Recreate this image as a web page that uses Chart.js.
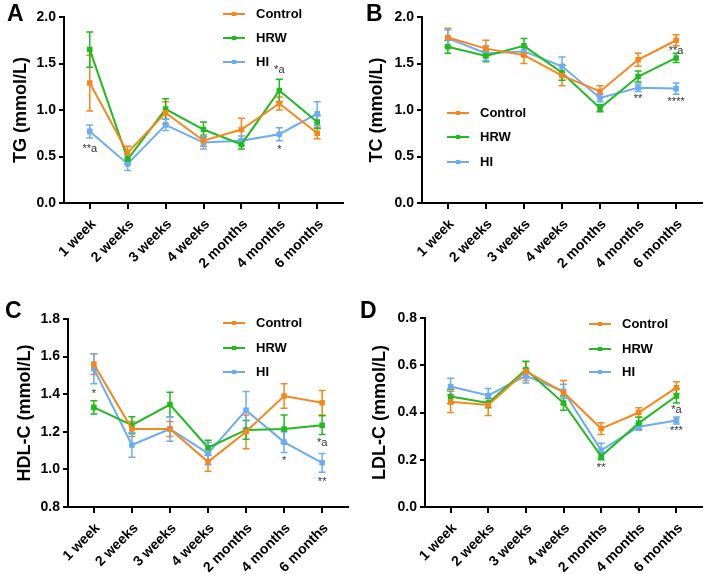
<!DOCTYPE html>
<html>
<head>
  <title>Lipid profile over time</title>
  <style>
    body {
      margin: 0;
      background: #fff;
      font-family: Arial, "Liberation Sans", sans-serif;
    }
    #wrap {
      position: relative;
      width: 708px;
      height: 574px;
    }
    canvas {
      position: absolute;
    }
    .letter {
      position: absolute;
      font-size: 23px;
      font-weight: bold;
      line-height: 1;
    }
    .lg {
      position: absolute;
      font-size: 13px;
      font-weight: bold;
      line-height: 16px;
      height: 16px;
      white-space: nowrap;
    }
    .lg .ln {
      position: absolute;
      left: 0;
      top: 7px;
      width: 22px;
      height: 2px;
    }
    .lg .ln i {
      position: absolute;
      left: 9px;
      top: -1px;
      width: 4px;
      height: 4px;
    }
    .lg span.tx {
      position: absolute;
      left: 33px;
      top: 0;
    }
  </style>
</head>
<body>
  <div id="wrap">
    <canvas id="cA" width="354" height="287" style="left:0;top:0"></canvas>
    <canvas id="cB" width="354" height="287" style="left:354px;top:0"></canvas>
    <canvas id="cC" width="354" height="287" style="left:0;top:287px"></canvas>
    <canvas id="cD" width="354" height="287" style="left:354px;top:287px"></canvas>
    <div class="letter" style="left:7px;top:2px">A</div>
    <div class="letter" style="left:366px;top:2px">B</div>
    <div class="letter" style="left:5px;top:299px">C</div>
    <div class="letter" style="left:360px;top:299px">D</div>
  </div>

  <script src="https://cdn.jsdelivr.net/npm/chart.js"></script>

  <script>
    // categories
    const weeks = ['1 week', '2 weeks', '3 weeks', '4 weeks', '2 months', '4 months', '6 months'];
    const groups = ['Control', 'HRW', 'HI'];
    const colors = ['#f7861c', '#1fbb1f', '#6cacf2'];

    // TG
    const tgControl = [1.29, 0.54, 0.97, 0.67, 0.79, 1.07, 0.75];
    const tgControlErr = [0.30, 0.07, 0.12, 0.06, 0.12, 0.07, 0.06];
    const tgHRW = [1.65, 0.47, 1.01, 0.79, 0.63, 1.21, 0.87];
    const tgHRWErr = [0.19, 0.05, 0.11, 0.08, 0.05, 0.12, 0.07];
    const tgHI = [0.77, 0.42, 0.84, 0.65, 0.67, 0.74, 0.96];
    const tgHIErr = [0.07, 0.07, 0.06, 0.07, 0.05, 0.07, 0.13];
    const tgNotes = [[0, 0.58, '**a'], [5, 1.43, '*a'], [5, 0.57, '*']];

    // TC
    const tcControl = [1.78, 1.66, 1.59, 1.37, 1.20, 1.54, 1.75];
    const tcControlErr = [0.10, 0.09, 0.09, 0.11, 0.06, 0.07, 0.06];
    const tcHRW = [1.68, 1.58, 1.69, 1.40, 1.02, 1.36, 1.56];
    const tcHRWErr = [0.07, 0.06, 0.08, 0.08, 0.04, 0.06, 0.05];
    const tcHI = [1.77, 1.61, 1.63, 1.47, 1.13, 1.24, 1.23];
    const tcHIErr = [0.09, 0.08, 0.05, 0.10, 0.04, 0.04, 0.06];
    const tcNotes = [[6, 1.64, '**a'], [5, 1.12, '**'], [6, 1.09, '****']];

    // HDL-C
    const hdlControl = [1.56, 1.215, 1.215, 1.04, 1.20, 1.39, 1.355];
    const hdlControlErr = [0.055, 0.04, 0.04, 0.05, 0.09, 0.065, 0.065];
    const hdlHRW = [1.33, 1.235, 1.345, 1.115, 1.21, 1.215, 1.235];
    const hdlHRWErr = [0.035, 0.045, 0.065, 0.04, 0.05, 0.075, 0.05];
    const hdlHI = [1.535, 1.13, 1.215, 1.085, 1.315, 1.145, 1.035];
    const hdlHIErr = [0.08, 0.065, 0.065, 0.06, 0.10, 0.055, 0.05];
    const hdlNotes = [[0, 1.40, '*'], [6, 1.14, '*a'], [5, 1.045, '*'], [6, 0.935, '**']];

    // LDL-C
    const ldlControl = [0.445, 0.432, 0.575, 0.485, 0.332, 0.40, 0.505];
    const ldlControlErr = [0.045, 0.045, 0.04, 0.05, 0.025, 0.02, 0.025];
    const ldlHRW = [0.468, 0.44, 0.582, 0.44, 0.215, 0.355, 0.47];
    const ldlHRWErr = [0.03, 0.02, 0.035, 0.03, 0.015, 0.025, 0.03];
    const ldlHI = [0.51, 0.472, 0.555, 0.49, 0.24, 0.34, 0.366];
    const ldlHIErr = [0.035, 0.03, 0.03, 0.03, 0.03, 0.015, 0.015];
    const ldlNotes = [[6, 0.41, '*a'], [6, 0.32, '***'], [4, 0.165, '**']];

    const fam = 'Arial, "Liberation Sans", sans-serif';

    // error bars drawn under the lines
    const errorBars = {
      id: 'errorBars',
      beforeDatasetsDraw(chart) {
        const ctx = chart.ctx;
        const x = chart.scales.x, y = chart.scales.y;
        ctx.save();
        ctx.lineWidth = 1.5;
        chart.data.datasets.forEach(ds => {
          ctx.strokeStyle = ds.borderColor;
          ds.data.forEach((p, i) => {
            const px = x.getPixelForValue(p.x);
            const top = y.getPixelForValue(p.y + ds.err[i]);
            const bot = y.getPixelForValue(p.y - ds.err[i]);
            ctx.beginPath();
            ctx.moveTo(px, top); ctx.lineTo(px, bot);
            ctx.moveTo(px - 3.5, top); ctx.lineTo(px + 3.5, top);
            ctx.moveTo(px - 3.5, bot); ctx.lineTo(px + 3.5, bot);
            ctx.stroke();
          });
        });
        ctx.restore();
      }
    };

    // significance marks
    const sigMarks = {
      id: 'sigMarks',
      afterDatasetsDraw(chart, args, opts) {
        const ctx = chart.ctx;
        ctx.save();
        ctx.fillStyle = '#333';
        ctx.font = '11px ' + fam;
        ctx.textAlign = 'center';
        ctx.textBaseline = 'middle';
        (opts.notes || []).forEach(n => {
          ctx.fillText(n[2], chart.scales.x.getPixelForValue(n[0]), chart.scales.y.getPixelForValue(n[1]));
        });
        ctx.restore();
      }
    };

    function makePanel(id, title, yMin, yMax, step, vals, errs, notes, box) {
      const tickFont = { family: fam, size: 14, weight: 'bold' };
      new Chart(document.getElementById(id), {
        type: 'line',
        data: {
          datasets: groups.map((g, k) => ({
            label: g,
            data: vals[k].map((v, i) => ({ x: i, y: v })),
            err: errs[k],
            borderColor: colors[k],
            backgroundColor: colors[k],
            borderWidth: 2,
            pointRadius: 2.5,
            pointStyle: 'rect',
            tension: 0
          }))
        },
        options: {
          responsive: false,
          animation: false,
          layout: { padding: { left: box.pl, top: box.pt, right: box.pr, bottom: 0 } },
          plugins: {
            legend: { display: false },
            tooltip: { enabled: false },
            sigMarks: { notes }
          },
          scales: {
            x: {
              type: 'linear',
              min: -0.68,
              max: 6.68,
              afterBuildTicks: s => { s.ticks = weeks.map((w, i) => ({ value: i })); },
              ticks: {
                color: '#000', font: tickFont, minRotation: 45, maxRotation: 45,
                autoSkip: false, padding: 7, labelOffset: 4, callback: (v, i) => weeks[i]
              },
              grid: { drawOnChartArea: false, drawTicks: true, tickLength: 6, color: '#000', lineWidth: 2 },
              border: { color: '#000', width: 2 },
              afterFit: s => { s.height = box.xh; }
            },
            y: {
              min: yMin,
              max: yMax,
              ticks: { stepSize: step, color: '#000', font: tickFont, padding: 3, callback: v => v.toFixed(1) },
              grid: { drawOnChartArea: false, drawTicks: true, tickLength: 5, color: '#000', lineWidth: 2 },
              border: { color: '#000', width: 2 },
              title: { display: true, text: title, color: '#000', font: { family: fam, size: 18, weight: 'bold' } },
              afterFit: s => { s.width = box.yw; }
            }
          }
        },
        plugins: [errorBars, sigMarks]
      });
    }

    makePanel('cA', 'TG (mmol/L)', 0, 2.0, 0.5,
      [tgControl, tgHRW, tgHI], [tgControlErr, tgHRWErr, tgHIErr], tgNotes,
      { pl: 6, yw: 58, pt: 17, pr: 11, xh: 84 });
    makePanel('cB', 'TC (mmol/L)', 0, 2.0, 0.5,
      [tcControl, tcHRW, tcHI], [tcControlErr, tcHRWErr, tcHIErr], tcNotes,
      { pl: 8, yw: 60, pt: 17, pr: 5, xh: 84 });
    makePanel('cC', 'HDL-C (mmol/L)', 0.8, 1.8, 0.2,
      [hdlControl, hdlHRW, hdlHI], [hdlControlErr, hdlHRWErr, hdlHIErr], hdlNotes,
      { pl: 10, yw: 58, pt: 32, pr: 4, xh: 67 });
    makePanel('cD', 'LDL-C (mmol/L)', 0, 0.8, 0.2,
      [ldlControl, ldlHRW, ldlHI], [ldlControlErr, ldlHRWErr, ldlHIErr], ldlNotes,
      { pl: 11, yw: 60, pt: 31, pr: 2, xh: 67 });

    // legends
    const legendSpots = [
      { x: 223, ys: [6, 30, 54] },
      { x: 447, ys: [105, 129, 154] },
      { x: 223, ys: [315, 340, 364] },
      { x: 589, ys: [316, 341, 364] }
    ];
    const wrap = document.getElementById('wrap');
    legendSpots.forEach(sp => {
      groups.forEach((g, k) => {
        const d = document.createElement('div');
        d.className = 'lg';
        d.style.left = sp.x + 'px';
        d.style.top = sp.ys[k] + 'px';
        d.innerHTML = '<span class="ln" style="background:' + colors[k] + '"><i style="background:' + colors[k] + '"></i></span><span class="tx">' + g + '</span>';
        wrap.appendChild(d);
      });
    });
  </script>
</body>
</html>
